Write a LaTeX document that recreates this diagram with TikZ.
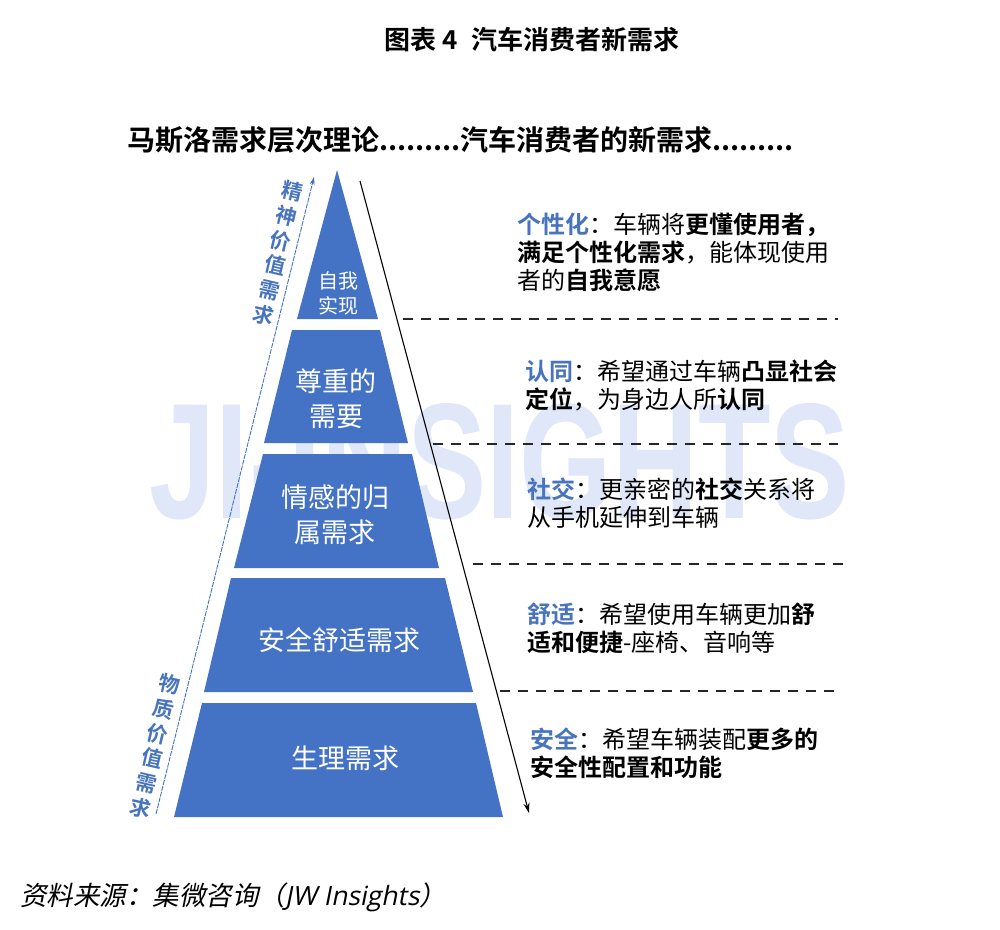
\documentclass[tikz,border=0pt]{standalone}
\usepackage{graphicx}
\usepackage{fontspec}
\setmainfont{Noto Sans CJK SC}[BoldFont={Noto Sans CJK SC Bold}]
\newfontfamily\srccjk{Noto Sans CJK SC}[FakeSlant=0.2]
\newfontfamily\srclat{Open Sans}[FakeSlant=0.2]
\newfontfamily\wmfont{Liberation Sans}
\usetikzlibrary{arrows.meta}
\definecolor{pyblue}{RGB}{68,114,196}
\definecolor{lblue}{RGB}{72,116,190}
\definecolor{wmblue}{RGB}{224,231,249}
\newcommand\lb[1]{{\color{lblue}\bfseries #1}}
\newcommand\bb[1]{{\bfseries #1}}
\newcommand\dotrun{\hbox to 81pt{\leaders\hbox to 9pt{\hss.\hss}\hfill}}
\begin{document}
\begin{tikzpicture}[x=1pt,y=-1pt,
  layer/.style={fill=pyblue,draw=none},
  ptext/.style={text=white,align=center,inner sep=0pt,font=\fontsize{27}{35}\selectfont},
  rtext/.style={anchor=north west,align=left,inner sep=0pt,font=\fontsize{24}{28}\selectfont},
  vlabel/.style={text=lblue,align=center,inner sep=0pt,rotate=-13,font=\bfseries\fontsize{21}{25.3}\selectfont},
  sepline/.style={dash pattern=on 10pt off 8pt,line width=1.4pt,black!85},
  ]
\useasboundingbox (0,0) rectangle (1000,929);
% watermark
\node[text=wmblue,inner sep=0pt] (wm) at (500,462) {\resizebox{700pt}{115pt}{\wmfont\bfseries JI-INSIGHTS}};
% titles
\node[inner sep=0pt,font=\bfseries\fontsize{26}{30}\selectfont] (title) at (532,40) {图表 4\enspace 汽车消费者新需求};
\node[anchor=west,inner sep=0pt,font=\bfseries\fontsize{28}{32}\selectfont] (sub) at (127,140) {马斯洛需求层次理论\dotrun 汽车消费者的新需求\dotrun};
% pyramid layers
\fill[layer] (337,170) -- (378,319) -- (297,319) -- cycle;
\fill[layer] (292,330) -- (380,330) -- (408,443) -- (264,443) -- cycle;
\fill[layer] (263,454) -- (412,454) -- (439,568) -- (234,568) -- cycle;
\fill[layer] (231,578) -- (445,578) -- (473,692) -- (204,692) -- cycle;
\fill[layer] (202,703) -- (476,703) -- (503,817) -- (174,817) -- cycle;
% pyramid texts
\node[ptext,font=\fontsize{20}{25}\selectfont] (p1) at (338,293) {自我\\实现};
\node[ptext] (p2) at (336,399) {尊重的\\需要};
\node[ptext] (p3) at (335,515) {情感的归\\属需求};
\node[ptext] (p4) at (339,640) {安全舒适需求};
\node[ptext] (p5) at (345,758) {生理需求};
% side arrows
\coordinate (lt) at (314,177);
\coordinate (lbot) at (156,814);
\coordinate (rt) at (360,181);
\coordinate (rb) at (529,813);
\draw[pyblue,line width=0.9pt,dash pattern=on 5pt off 1pt,-{Stealth[length=8pt,width=5pt]}] (lbot) -- (lt);
\draw[black,line width=1.1pt,-{Stealth[length=10pt,width=6pt]}] (rt) -- (rb);
\node[vlabel] (v1) at (278,253) {精\\神\\价\\值\\需\\求};
\node[vlabel] (v2) at (155,746) {物\\质\\价\\值\\需\\求};
% dashed separators
\coordinate (d1s) at (403,319); \coordinate (d1e) at (838,319);
\coordinate (d2s) at (433,444); \coordinate (d2e) at (838,444);
\coordinate (d3s) at (473,564); \coordinate (d3e) at (847,564);
\coordinate (d4s) at (500,691); \coordinate (d4e) at (838,691);
\draw[sepline] (d1s) -- (d1e);
\draw[sepline] (d2s) -- (d2e);
\draw[sepline] (d3s) -- (d3e);
\draw[sepline] (d4s) -- (d4e);
% right texts
\node[rtext] (t1) at (517,213) {\lb{个性化}：车辆将\bb{更懂使用者，}\\\bb{满足个性化需求}，能体现使用\\者的\bb{自我意愿}};
\node[rtext] (t2) at (525,360) {\lb{认同}：希望通过车辆\bb{凸显社会}\\\bb{定位}，为身边人所\bb{认同}};
\node[rtext] (t3) at (527,478) {\lb{社交}：更亲密的\bb{社交}关系将\\从手机延伸到车辆};
\node[rtext] (t4) at (527,603) {\lb{舒适}：希望使用车辆更加\bb{舒}\\\bb{适和便捷}-座椅、音响等};
\node[rtext] (t5) at (530,728) {\lb{安全}：希望车辆装配\bb{更多的}\\\bb{安全性配置和功能}};
% source
\node[anchor=west,inner sep=0pt,font=\fontsize{26.5}{30}\selectfont] (src) at (20,897) {\srccjk 资料来源：集微咨询（{\srclat JW Insights}）};
\end{tikzpicture}
\end{document}
